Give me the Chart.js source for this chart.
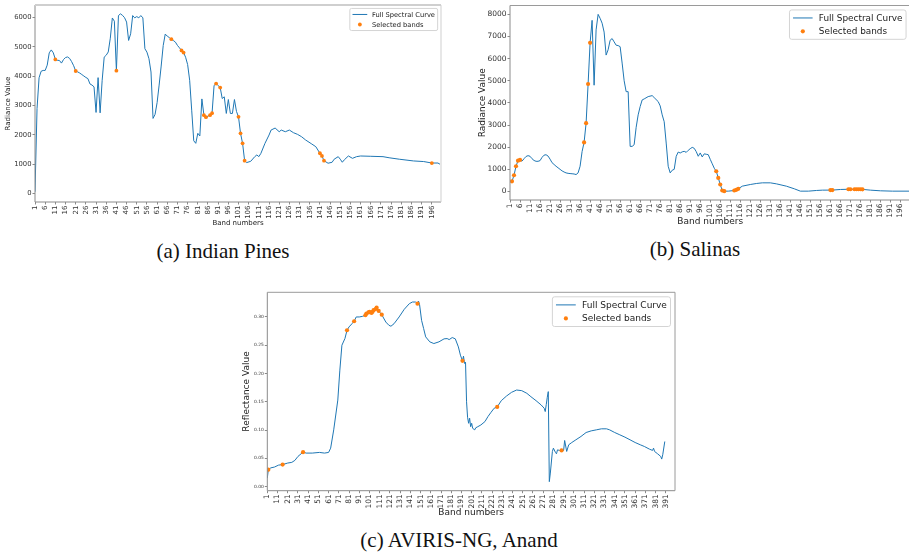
<!DOCTYPE html>
<html>
<head>
<meta charset="utf-8">
<script src="https://cdn.jsdelivr.net/npm/chart.js@4.4.1/dist/chart.umd.min.js"></script>
<style>
  html, body { margin: 0; padding: 0; background: #fff; width: 909px; height: 557px; overflow: hidden; }
  canvas { position: absolute; }
  .cap { position: absolute; font-family: "Liberation Serif", serif; font-size: 21px; line-height: 21px;
         white-space: nowrap; color: #111; transform: translateX(-50%); }
</style>
</head>
<body>
<canvas id="ip" width="446" height="235" style="left:0px;top:0px;width:446px;height:235px"></canvas>
<canvas id="sa" width="470" height="232" style="left:450px;top:0px;width:470px;height:232px"></canvas>
<canvas id="av" width="450" height="235" style="left:230px;top:287px;width:450px;height:235px"></canvas>
<div class="cap" style="left:223px;top:241px">(a) Indian Pines</div>
<div class="cap" style="left:695px;top:239px">(b) Salinas</div>
<div class="cap" style="left:459px;top:530px">(c) AVIRIS-NG, Anand</div>
<script>
// ---------- Indian Pines: mean radiance spectrum ----------
const ipBands = [1,2,3,4,5,6,7,8,9,10,
  12,13,14,15,16,17,18,19,20,
  22,23,24,25,26,27,28,29,30,31,32,33,34,35,36,37,38,39,40,
  42,43,44,45,46,47,48,49,50,51,52,53,54,55,56,57,58,59,60,61,62,63,64,65,66,67,
  69,70,71,72,
  75,76,77,78,79,80,81,82,83,
  86,89,91,
  93,94,95,96,97,98,99,100,
  105,107,109,110,111,112,114,116,117,119,121,122,124,126,128,130,132,134,137,139,
  145,147,148,150,151,152,153,155,157,159,161,166,172,175,180,187,192,199,200];
const ipValues = [60,2900,3950,4170,4200,4200,4380,4800,4900,4800,
  4545,4540,4450,4570,4640,4660,4610,4500,4360,
  4150,4110,4060,4010,3960,3920,3740,3700,3640,2766,3954,2752,3864,4655,4720,4830,5300,5990,5880,
  6072,6130,6080,6000,5850,5223,5450,6072,5994,6038,5994,6072,5994,4940,4825,4600,4146,2562,2700,3100,3700,4350,5050,5440,5370,5320,
  5220,5166,5053,4970,
  4650,4400,3864,2844,1800,1712,2053,1962,3228,
  2640,3690,3680,
  3241,3300,2732,3207,2732,2732,3207,2800,
  1055,1099,1258,1315,1258,1370,1711,1995,2165,2234,2108,2165,2108,2165,2075,2018,1937,1825,1689,1597,
  1033,1066,1170,1257,1170,1067,1150,1281,1200,1257,1280,1270,1257,1220,1170,1111,1090,1040,999];
const ipSelBands  = [11,21,41,68,73,74,84,85,87,88,90,92,101,102,103,104,141,142,143,196];
const ipSelValues = [4577,4180,4190,5267,4883,4810,2674,2606,2674,2742,3751,3615,2616,2052,1712,1121,1373,1281,1121,1040];
const ipXTicks = [1,6,11,16,21,26,31,36,41,46,51,56,61,66,71,76,81,86,91,96,
  101,106,111,116,121,126,131,136,141,146,151,156,161,166,171,176,181,186,191,196];
const ipYTicks = [0,1000,2000,3000,4000,5000,6000];

// ---------- Salinas: mean radiance spectrum ----------
const saBands = [1,7,8,9,10,11,12,13,14,15,16,17,18,19,20,21,22,23,24,25,26,27,28,29,30,31,32,33,34,35,36,37,
  42,43,44,45,46,47,48,49,50,51,52,53,54,55,56,57,58,59,60,61,62,63,64,65,66,67,68,70,72,73,75,76,77,78,79,80,
  81,82,83,84,85,86,87,88,89,90,91,92,93,94,95,96,97,98,99,100,101,102,103,
  110,117,121,124,127,131,134,139,143,146,150,154,157,166,181,186,192,204];
const saValues = [430,1370,1480,1580,1618,1590,1480,1400,1363,1363,1393,1540,1640,1660,1600,1460,1300,1220,1139,1070,1000,930,880,839,820,809,800,790,764,839,1139,1800,
  7730,4800,7300,8000,7820,7600,7200,6160,6400,6830,6906,6757,6607,6590,6540,5800,5000,4509,4509,2037,2037,2112,2900,3461,3835,4135,4180,4285,4330,4240,4060,3865,3461,3150,2187,1139,
  839,960,1000,1588,1780,1738,1790,1813,1768,1858,1933,1993,1950,1800,1590,1740,1560,1700,1680,1663,1450,1250,1050,
  15,240,315,360,390,390,345,240,120,15,15,45,60,90,60,30,15,15];
const saSelBands  = [2,3,4,5,6,38,39,40,41,104,105,106,107,108,113,114,115,161,162,170,171,173,174,175,176,177];
const saSelValues = [460,733,1139,1393,1423,2217,3086,4854,6712,914,614,315,45,15,45,75,120,62,62,100,100,100,100,100,100,95];
const saXTicks = [1,6,11,16,21,26,31,36,41,46,51,56,61,66,71,76,81,86,91,96,
  101,106,111,116,121,126,131,136,141,146,151,156,161,166,171,176,181,186,191,196];
const saYTicks = [0,1000,2000,3000,4000,5000,6000,7000,8000];

// ---------- AVIRIS-NG, Anand: mean reflectance spectrum ----------
const avBands = [1,3,4,8,12,21,25,28,31,34,39,45,52,57,61,63,66,70,72,74,77,81,84,88,91,94,
  117,120,122,125,130,135,140,143,146,149,150,152,154,156,160,164,169,174,177,179,182,185,188,190,
  193,194,195,196,197,198,199,200,201,202,204,205,207,210,214,217,220,223,
  230,235,240,245,250,255,259,264,269,272,273,274,275,276,277,278,280,281,283,284,285,287,
  291,292,294,296,299,303,308,313,318,323,328,333,336,341,346,351,356,361,366,370,375,378,379,380,383,386,387,388,390];
const avValues = [0.015,0.031,0.033,0.0346,0.038,0.0417,0.0429,0.0464,0.0534,0.058,0.0593,0.0593,0.0605,0.0593,0.0605,0.068,0.1004,0.153,0.206,0.250,0.262,0.2824,0.2883,0.300,0.300,0.301,
  0.291,0.2853,0.2836,0.288,0.300,0.3135,0.3235,0.3264,0.3264,0.328,0.322,0.294,0.2795,0.2648,0.256,0.253,0.256,0.2613,0.2618,0.260,0.2636,0.2613,0.247,0.2325,
  0.2307,0.2178,0.2200,0.150,0.1227,0.112,0.121,0.106,0.112,0.103,0.1004,0.104,0.106,0.109,0.115,0.124,0.1315,0.1386,
  0.152,0.160,0.1667,0.1708,0.1697,0.165,0.159,0.152,0.1444,0.1386,0.1327,0.145,0.158,0.168,0.0088,0.024,0.0622,0.068,0.0605,0.058,0.065,0.064,
  0.064,0.0816,0.0622,0.074,0.078,0.0828,0.0887,0.0957,0.0986,0.1004,0.1022,0.1022,0.1004,0.0957,0.0916,0.0875,0.0828,0.078,0.074,0.071,0.0663,0.064,0.068,0.0622,0.058,0.0534,0.0487,0.0564,0.0798];
const avSelBands  = [2,16,36,79,86,97,98,100,101,103,104,105,107,108,110,113,148,192,226,289];
const avSelValues = [0.030,0.039,0.061,0.2765,0.2924,0.303,0.306,0.308,0.309,0.307,0.309,0.312,0.314,0.3164,0.3106,0.304,0.3235,0.2225,0.1409,0.064];
const avXTicks = [1,11,21,31,41,51,61,71,81,91,101,111,121,131,141,151,161,171,181,191,
  201,211,221,231,241,251,261,271,281,291,301,311,321,331,341,351,361,371,381,391];
const avYTicks = [0,0.05,0.10,0.15,0.20,0.25,0.30];

const CURVE_LABEL = 'Full Spectral Curve';
const SEL_LABEL = 'Selected bands';
const BLUE = '#1f77b4';
const ORANGE = '#ff7f0e';
const SANS = '"DejaVu Sans", sans-serif';

Chart.defaults.font.family = SANS;

function toPoints(bands, values) {
  return bands.map((b, i) => ({ x: b, y: values[i] }));
}

// Axes frame (all four spines) and a matplotlib-style legend box in the upper right.
const frameLegend = {
  id: 'frameLegend',
  afterDatasetsDraw(chart, args, o) {
    const { ctx, chartArea: a } = chart;
    ctx.save();
    const side = (color, x1, y1, x2, y2, w) => {
      ctx.strokeStyle = color; ctx.lineWidth = w || 1;
      ctx.beginPath(); ctx.moveTo(x1, y1); ctx.lineTo(x2, y2); ctx.stroke();
    };
    side(o.frame, a.left, a.top, a.left, a.bottom);
    side(o.frame, a.left, a.bottom, a.right, a.bottom);
    side(o.frameTop, a.left, a.top, a.right, a.top, o.frameTopWidth);
    side(o.frameTop, a.right, a.top, a.right, a.bottom);
    ctx.restore();
  },
  afterDraw(chart, args, o) {
    const { ctx, chartArea: a } = chart;
    const fs = o.fontSize;
    const items = [chart.data.datasets[1], chart.data.datasets[0]];
    ctx.save();
    ctx.font = fs + 'px ' + SANS;
    const tw = Math.max(...items.map(d => ctx.measureText(d.label).width));
    const bp = 0.4 * fs, hl = 2.2 * fs, htp = 0.7 * fs, rowH = fs, ls = 0.5 * fs;
    const w = bp + hl + htp + tw + bp;
    const h = 2 * bp + 2 * rowH + ls;
    const x = a.right - 0.5 * fs - w;
    const y = a.top + 0.5 * fs;
    ctx.beginPath();
    ctx.roundRect(x, y, w, h, 0.25 * fs);
    ctx.fillStyle = 'rgba(255,255,255,0.85)';
    ctx.fill();
    ctx.strokeStyle = '#d4d4d4';
    ctx.lineWidth = 1;
    ctx.stroke();
    items.forEach((d, i) => {
      const cy = y + bp + rowH / 2 + i * (rowH + ls);
      const hx = x + bp;
      if (d.showLine) {
        ctx.strokeStyle = d.borderColor; ctx.lineWidth = d.borderWidth;
        ctx.beginPath(); ctx.moveTo(hx, cy); ctx.lineTo(hx + hl, cy); ctx.stroke();
      } else {
        ctx.fillStyle = d.backgroundColor;
        ctx.beginPath(); ctx.arc(hx + hl / 2, cy, d.pointRadius, 0, Math.PI * 2); ctx.fill();
      }
      ctx.fillStyle = '#222';
      ctx.textBaseline = 'middle';
      ctx.textAlign = 'left';
      ctx.fillText(d.label, hx + hl + htp, cy + 0.5);
    });
    ctx.restore();
  }
};

function spectrumChart(id, s) {
  const selected = toPoints(s.selBands, s.selValues);
  const curve = toPoints(s.bands, s.values).concat(selected).sort((p, q) => p.x - q.x);
  return new Chart(document.getElementById(id), {
    type: 'scatter',
    data: {
      datasets: [
        { label: SEL_LABEL, data: selected, backgroundColor: ORANGE, borderWidth: 0,
          pointRadius: s.dotR, pointHoverRadius: s.dotR, order: 0 },
        { label: CURVE_LABEL, data: curve, showLine: true, borderColor: BLUE, borderWidth: s.lineW,
          pointRadius: 0, pointHoverRadius: 0, tension: 0, order: 1 }
      ]
    },
    options: {
      responsive: false, animation: false, devicePixelRatio: 1, events: [],
      layout: { padding: { top: s.padTop, right: s.padRight, left: 0, bottom: 0 } },
      plugins: {
        legend: { display: false }, tooltip: { enabled: false },
        frameLegend: { fontSize: s.legendSize, frame: s.frame, frameTop: s.frameTop,
                       frameTopWidth: s.frameTopWidth }
      },
      scales: {
        x: {
          type: 'linear', min: s.xMin, max: s.xMax,
          afterBuildTicks: sc => { sc.ticks = s.xTicks.map(v => ({ value: v })); },
          afterFit: sc => { sc.height = s.xAxisH; },
          ticks: { autoSkip: false, minRotation: 90, maxRotation: 90, padding: 1,
                   font: { size: s.xTickSize }, color: '#333', callback: v => String(v) },
          grid: { drawOnChartArea: false, drawTicks: true, tickLength: 2.5, color: s.frame },
          border: { display: false },
          title: { display: true, text: 'Band numbers', color: '#222',
                   font: { size: s.xTitleSize }, padding: { top: 0, bottom: s.xTitlePad } }
        },
        y: {
          type: 'linear', min: s.yMin, max: s.yMax,
          afterBuildTicks: sc => { sc.ticks = s.yTicks.map(v => ({ value: v })); },
          afterFit: sc => { sc.width = s.yAxisW; },
          ticks: { padding: 1, font: { size: s.yTickSize }, color: '#333',
                   callback: v => s.yDigits ? v.toFixed(s.yDigits) : String(v) },
          grid: { drawOnChartArea: false, drawTicks: true, tickLength: 2.5, color: s.frame },
          border: { display: false },
          title: { display: true, text: s.yTitle, color: '#222',
                   font: { size: s.yTitleSize }, padding: { top: s.yTitlePad, bottom: 0 } }
        }
      }
    },
    plugins: [frameLegend]
  });
}

spectrumChart('ip', {
  bands: ipBands, values: ipValues, selBands: ipSelBands, selValues: ipSelValues,
  xTicks: ipXTicks, yTicks: ipYTicks, xMin: 1, xMax: 200.5, yMin: -290, yMax: 6430, yDigits: 0,
  yTitle: 'Radiance Value', padTop: 5, padRight: 5, yAxisW: 35, xAxisH: 33,
  xTickSize: 7, yTickSize: 6.8, xTitleSize: 7, yTitleSize: 7, xTitlePad: 7.8, yTitlePad: 4.1,
  legendSize: 6.7, dotR: 1.9, lineW: 1, frame: '#8a8a8a', frameTop: '#cfcfcf', frameTopWidth: 2
});

spectrumChart('sa', {
  bands: saBands, values: saValues, selBands: saSelBands, selValues: saSelValues,
  xTicks: saXTicks, yTicks: saYTicks, xMin: 1, xMax: 201, yMin: -385, yMax: 8400, yDigits: 0,
  yTitle: 'Radiance Value', padTop: 5, padRight: 9.5, yAxisW: 60, xAxisH: 32,
  xTickSize: 7.5, yTickSize: 7.5, xTitleSize: 9, yTitleSize: 9, xTitlePad: 4.6, yTitlePad: 26.9,
  legendSize: 8.9, dotR: 2.1, lineW: 1, frame: '#8a8a8a', frameTop: '#9a9a9a', frameTopWidth: 1
});

spectrumChart('av', {
  bands: avBands, values: avValues, selBands: avSelBands, selValues: avSelValues,
  xTicks: avXTicks, yTicks: avYTicks, xMin: 1, xMax: 400, yMin: -0.0072, yMax: 0.3436, yDigits: 2,
  yTitle: 'Reflectance Value', padTop: 5.3, padRight: 5, yAxisW: 37.3, xAxisH: 31.3,
  xTickSize: 7.5, yTickSize: 4.4, xTitleSize: 9, yTitleSize: 9, xTitlePad: 3.6, yTitlePad: 11.3,
  legendSize: 9, dotR: 2.1, lineW: 1, frame: '#8a8a8a', frameTop: '#9a9a9a', frameTopWidth: 1
});
</script>
</body>
</html>
